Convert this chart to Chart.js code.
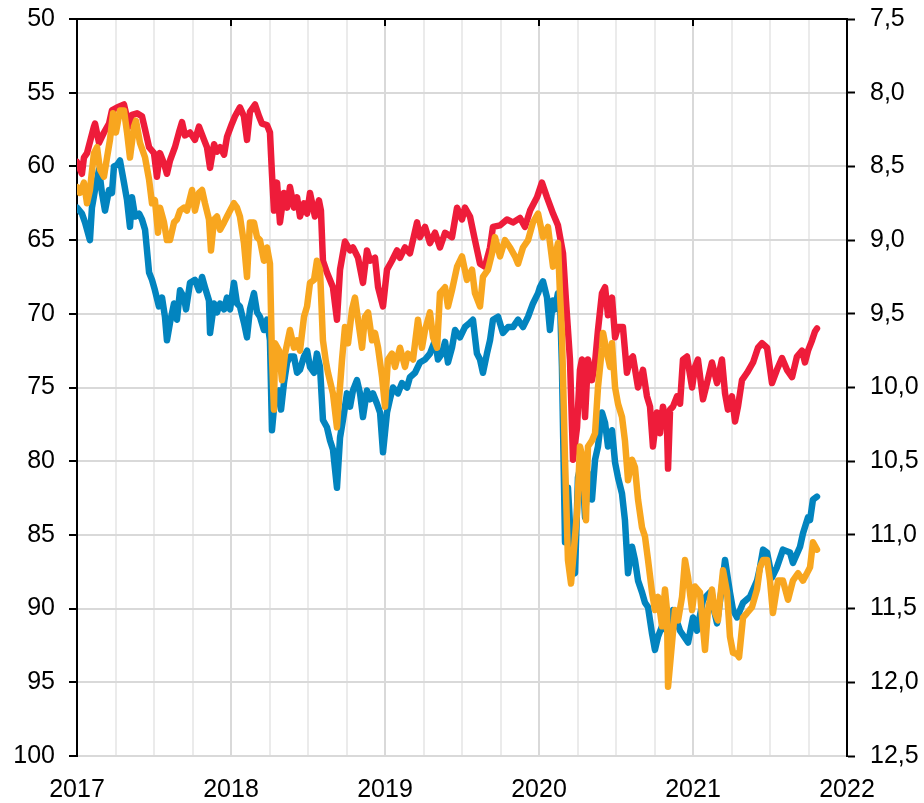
<!DOCTYPE html>
<html>
<head>
<meta charset="utf-8">
<script src="https://cdn.jsdelivr.net/npm/chart.js@4/dist/chart.umd.min.js"></script>
<style>
html,body{margin:0;padding:0;background:#fff;}
#wrap{width:924px;height:803px;}
</style>
</head>
<body>
<div id="wrap"><canvas id="c" width="924" height="803"></canvas></div>
<script>
// ---- Data (decimal years) ----
const yearTicks = [2017, 2018, 2019, 2020, 2021, 2022];

const blueYears = [2017.000,2017.032,2017.052,2017.084,2017.097,2017.117,2017.143,2017.162,2017.182,2017.208,2017.227,2017.240,2017.260,2017.279,2017.305,2017.325,2017.344,2017.357,2017.377,2017.403,2017.422,2017.442,2017.468,2017.487,2017.506,2017.532,2017.552,2017.571,2017.584,2017.604,2017.630,2017.649,2017.669,2017.695,2017.708,2017.734,2017.766,2017.792,2017.812,2017.831,2017.857,2017.864,2017.890,2017.909,2017.929,2017.955,2017.974,2017.994,
2018.019,2018.039,2018.058,2018.084,2018.104,2018.123,2018.149,2018.169,2018.188,2018.214,2018.234,2018.253,2018.266,2018.286,2018.312,2018.325,2018.344,2018.364,2018.383,2018.409,2018.429,2018.448,2018.474,2018.494,2018.513,2018.539,2018.558,2018.578,2018.597,2018.623,2018.643,2018.662,2018.688,2018.708,2018.727,2018.753,2018.773,2018.792,2018.818,2018.838,2018.857,2018.883,2018.903,2018.922,2018.948,2018.968,2018.987,
2019.013,2019.032,2019.052,2019.084,2019.110,2019.143,2019.162,2019.195,2019.227,2019.260,2019.292,2019.325,2019.344,2019.370,2019.390,2019.409,2019.435,2019.455,2019.487,2019.519,2019.552,2019.571,2019.597,2019.617,2019.636,2019.662,2019.682,2019.701,2019.734,2019.766,2019.799,2019.831,2019.864,2019.896,2019.929,2019.961,2019.994,
2020.006,2020.026,2020.052,2020.071,2020.091,2020.104,2020.123,2020.136,2020.149,2020.169,2020.188,2020.214,2020.234,2020.253,2020.279,2020.299,2020.318,2020.344,2020.364,2020.383,2020.409,2020.429,2020.448,2020.474,2020.494,2020.513,2020.539,2020.558,2020.578,2020.604,2020.623,2020.643,2020.669,2020.688,2020.708,2020.734,2020.753,2020.773,2020.799,2020.831,2020.870,2020.916,2020.968,
2021.000,2021.026,2021.065,2021.110,2021.156,2021.188,2021.208,2021.240,2021.260,2021.286,2021.325,2021.370,2021.416,2021.435,2021.455,2021.481,2021.513,2021.545,2021.584,2021.630,2021.649,2021.695,2021.714,2021.747,2021.760,2021.779,2021.805];
const blueValues = [62.8,63.2,63.8,65.0,62.8,61.6,60.2,61.8,63.0,61.6,61.8,60.0,59.9,59.6,61.1,62.3,64.1,62.1,63.4,63.2,63.6,64.3,67.2,67.7,68.4,69.5,68.9,70.2,71.8,70.6,69.3,70.4,68.4,68.9,69.7,67.9,67.7,68.4,67.5,68.2,69.1,71.3,69.3,69.9,69.3,69.7,68.9,69.7,
67.9,69.3,69.5,70.6,71.6,69.7,68.6,69.9,70.2,71.1,70.4,71.8,77.9,75.6,75.2,76.5,74.7,73.3,72.9,72.9,74.0,73.8,72.9,72.5,73.6,74.0,72.7,73.6,77.2,77.7,78.6,79.2,81.8,78.4,77.2,75.4,76.3,75.2,74.5,75.4,77.0,75.2,75.8,75.4,76.1,76.7,79.4,
76.7,75.8,75.0,75.4,74.7,75.0,74.3,74.0,73.3,73.1,72.7,71.8,73.1,72.7,71.9,73.3,72.3,71.1,71.6,70.9,70.6,70.4,72.7,73.1,74.0,72.7,71.8,70.4,70.2,71.3,70.9,70.9,70.4,70.9,70.2,69.3,68.6,
68.2,67.8,68.9,71.1,69.1,69.7,68.6,68.9,73.6,85.5,81.8,86.7,87.6,81.1,79.9,83.8,80.8,82.6,79.9,79.0,76.7,77.4,79.0,77.9,80.1,81.1,82.2,84.0,87.6,85.8,86.7,88.1,88.9,89.6,89.9,91.7,92.8,91.9,91.2,91.5,90.1,91.5,92.3,
90.6,91.5,89.4,88.9,91.0,88.5,86.7,88.9,90.1,90.6,89.6,89.2,88.1,87.2,86.0,86.2,87.9,87.2,86.0,86.2,86.9,85.8,84.9,83.8,84.0,82.6,82.4];

const redYears = [2017.000,2017.032,2017.045,2017.065,2017.110,2017.117,2017.143,2017.175,2017.208,2017.227,2017.260,2017.305,2017.338,2017.357,2017.390,2017.422,2017.442,2017.468,2017.500,2017.519,2017.539,2017.565,2017.584,2017.604,2017.636,2017.662,2017.682,2017.701,2017.734,2017.766,2017.792,2017.825,2017.844,2017.864,2017.890,2017.909,2017.929,2017.955,2017.974,
2018.006,2018.026,2018.058,2018.084,2018.104,2018.123,2018.156,2018.182,2018.201,2018.234,2018.253,2018.266,2018.279,2018.299,2018.318,2018.344,2018.364,2018.383,2018.409,2018.429,2018.448,2018.474,2018.494,2018.513,2018.545,2018.571,2018.584,2018.597,2018.623,2018.662,2018.688,2018.708,2018.740,2018.773,2018.792,2018.825,2018.857,2018.883,2018.903,2018.935,2018.955,2018.987,
2019.013,2019.045,2019.078,2019.097,2019.130,2019.162,2019.208,2019.227,2019.260,2019.292,2019.325,2019.357,2019.390,2019.435,2019.468,2019.500,2019.519,2019.552,2019.584,2019.617,2019.649,2019.682,2019.701,2019.747,2019.792,2019.831,2019.877,2019.909,2019.942,2019.987,
2020.019,2020.052,2020.091,2020.123,2020.156,2020.175,2020.201,2020.221,2020.247,2020.266,2020.279,2020.299,2020.318,2020.344,2020.364,2020.383,2020.409,2020.429,2020.448,2020.474,2020.494,2020.513,2020.545,2020.571,2020.591,2020.610,2020.643,2020.675,2020.701,2020.721,2020.740,2020.766,2020.786,2020.805,2020.831,2020.838,2020.851,2020.870,2020.896,2020.916,2020.935,2020.961,2020.994,
2021.013,2021.032,2021.065,2021.091,2021.123,2021.156,2021.188,2021.208,2021.227,2021.253,2021.273,2021.292,2021.318,2021.351,2021.390,2021.422,2021.448,2021.481,2021.513,2021.545,2021.578,2021.610,2021.643,2021.675,2021.708,2021.727,2021.747,2021.773,2021.792,2021.805];
const redValues = [8.47,8.55,8.44,8.41,8.23,8.21,8.34,8.27,8.21,8.12,8.10,8.08,8.23,8.15,8.14,8.16,8.25,8.37,8.41,8.57,8.41,8.48,8.55,8.46,8.37,8.27,8.20,8.29,8.27,8.32,8.23,8.32,8.37,8.51,8.35,8.40,8.37,8.42,8.30,
8.21,8.16,8.10,8.16,8.32,8.13,8.08,8.16,8.21,8.22,8.27,8.55,8.80,8.61,8.88,8.68,8.78,8.64,8.78,8.71,8.84,8.75,8.82,8.68,8.84,8.73,8.80,9.14,9.22,9.32,9.54,9.20,9.01,9.07,9.05,9.12,9.29,9.07,9.14,9.12,9.32,9.45,
9.20,9.14,9.07,9.12,9.05,9.09,8.88,8.98,8.91,9.02,8.95,9.05,8.95,8.98,8.78,8.86,8.78,8.84,9.00,9.16,9.18,9.05,8.91,8.90,8.86,8.88,8.85,8.91,8.80,8.71,
8.61,8.71,8.82,8.90,9.09,9.41,9.81,10.49,10.27,9.88,9.81,10.20,9.81,9.95,9.83,9.61,9.36,9.32,9.51,9.39,9.66,9.59,9.59,9.90,9.81,9.79,10.00,9.88,10.06,10.13,10.40,10.17,10.31,10.13,10.27,10.55,10.15,10.13,10.06,10.11,9.81,9.79,10.00,
9.86,9.81,10.08,9.97,9.83,9.97,9.81,10.04,10.15,10.06,10.23,10.13,9.95,9.90,9.83,9.73,9.70,9.73,9.97,9.88,9.80,9.88,9.93,9.79,9.75,9.83,9.75,9.68,9.62,9.60];

const orangeYears = [2017.000,2017.019,2017.045,2017.065,2017.084,2017.110,2017.130,2017.149,2017.175,2017.195,2017.214,2017.234,2017.253,2017.279,2017.305,2017.325,2017.344,2017.370,2017.383,2017.409,2017.442,2017.468,2017.487,2017.506,2017.526,2017.539,2017.565,2017.584,2017.604,2017.630,2017.649,2017.669,2017.695,2017.714,2017.747,2017.766,2017.792,2017.812,2017.831,2017.857,2017.870,2017.890,2017.909,2017.929,2017.955,2017.974,2017.994,
2018.019,2018.039,2018.058,2018.084,2018.104,2018.123,2018.149,2018.169,2018.188,2018.214,2018.234,2018.253,2018.266,2018.279,2018.286,2018.312,2018.331,2018.351,2018.383,2018.409,2018.429,2018.448,2018.474,2018.494,2018.513,2018.539,2018.558,2018.578,2018.597,2018.617,2018.630,2018.662,2018.688,2018.721,2018.740,2018.760,2018.786,2018.805,2018.825,2018.851,2018.870,2018.890,2018.916,2018.935,2018.955,2018.981,
2019.000,2019.019,2019.045,2019.065,2019.097,2019.130,2019.149,2019.182,2019.214,2019.240,2019.260,2019.292,2019.312,2019.338,2019.357,2019.390,2019.409,2019.435,2019.468,2019.500,2019.532,2019.565,2019.584,2019.617,2019.636,2019.669,2019.695,2019.714,2019.747,2019.779,2019.812,2019.844,2019.864,2019.896,2019.929,2019.961,2019.994,
2020.026,2020.058,2020.091,2020.123,2020.136,2020.149,2020.169,2020.188,2020.208,2020.221,2020.247,2020.266,2020.286,2020.305,2020.318,2020.344,2020.364,2020.383,2020.409,2020.416,2020.442,2020.461,2020.474,2020.494,2020.513,2020.539,2020.558,2020.578,2020.604,2020.623,2020.643,2020.669,2020.688,2020.708,2020.734,2020.753,2020.773,2020.799,2020.818,2020.831,2020.838,2020.864,2020.883,2020.903,2020.929,2020.948,2020.968,2020.994,
2021.013,2021.045,2021.078,2021.097,2021.123,2021.143,2021.162,2021.195,2021.221,2021.240,2021.260,2021.286,2021.299,2021.325,2021.351,2021.383,2021.416,2021.435,2021.455,2021.481,2021.500,2021.519,2021.552,2021.584,2021.617,2021.649,2021.682,2021.714,2021.740,2021.760,2021.779,2021.805];
const orangeValues = [61.4,61.8,61.1,62.5,61.6,59.1,58.7,60.2,60.7,59.4,58.2,56.4,57.7,56.2,56.2,57.7,59.4,57.3,56.9,58.4,59.4,60.9,62.5,62.3,64.5,62.8,63.8,65.0,65.0,63.8,63.6,63.0,62.8,63.0,61.6,63.0,61.8,61.6,62.5,63.6,65.7,63.6,63.4,64.3,63.8,63.4,63.0,
62.5,62.8,63.4,65.2,67.5,63.8,63.8,64.8,65.0,66.4,65.5,66.6,72.9,76.5,72.0,72.5,74.5,72.7,71.1,72.3,71.8,72.5,70.2,69.5,67.9,67.7,66.4,67.0,71.8,73.3,74.0,75.4,77.7,73.1,70.9,72.0,69.7,68.9,70.4,72.3,70.2,69.9,71.8,71.3,72.3,74.3,
76.3,73.1,72.7,73.6,72.3,73.6,72.7,73.1,70.4,72.3,71.1,69.9,71.6,72.3,68.6,68.2,69.5,68.4,66.8,66.1,67.7,67.0,68.6,69.5,67.5,67.0,65.9,64.8,66.1,65.0,65.5,66.1,66.6,65.5,65.0,63.8,63.2,
64.8,64.1,66.8,65.2,68.6,71.3,79.9,86.7,88.3,86.7,83.5,79.0,79.9,84.0,79.0,78.6,78.1,75.0,72.3,71.3,72.7,73.6,72.0,75.0,76.1,77.0,78.6,81.3,79.9,80.4,82.6,84.5,85.1,86.7,88.9,90.1,89.2,91.2,88.7,90.1,95.3,92.3,90.1,90.8,89.2,86.7,87.9,90.1,
88.5,88.9,92.8,90.1,88.7,90.3,90.8,87.4,88.9,91.9,93.0,93.1,93.3,90.6,90.3,89.9,88.7,87.2,86.7,86.7,88.1,90.3,88.1,88.1,89.4,88.1,87.6,88.1,87.6,87.2,85.5,86.0];

// ---- Chart ----
const FONT = "'Liberation Sans', Arial, sans-serif";
Chart.defaults.font.family = FONT;
Chart.defaults.color = '#000';

function pts(xs, ys) {
  const n = Math.min(xs.length, ys.length);
  const out = [];
  for (let i = 0; i < n; i++) out.push({x: xs[i], y: ys[i]});
  return out;
}
const isYear = v => Math.abs(v - Math.round(v)) < 1e-6;

const framePlugin = {
  id: 'frame',
  afterDraw(chart) {
    const {ctx, chartArea: a, scales} = chart;
    const x = scales.x;
    ctx.save();
    ctx.strokeStyle = '#000';
    ctx.lineWidth = 2;
    ctx.beginPath();
    ctx.moveTo(a.left - 1, a.top);
    ctx.lineTo(a.right + 1, a.top);
    yearTicks.forEach(yr => {
      const px = Math.round(x.getPixelForValue(yr));
      if (px > a.left + 2 && px < a.right - 2) {
        ctx.moveTo(px, a.top);
        ctx.lineTo(px, a.top + 7);
      }
    });
    ctx.stroke();
    ctx.restore();
  }
};

function fixY(s) { s.width = 77; s.paddingTop = 0; s.paddingBottom = 0; }

const LW = 6.5;
new Chart(document.getElementById('c'), {
  type: 'line',
  data: {
    datasets: [
      {label: 'orange', data: pts(orangeYears, orangeValues), yAxisID: 'y', borderColor: '#f8a61f', borderWidth: LW, order: 0},
      {label: 'red', data: pts(redYears, redValues), yAxisID: 'y2', borderColor: '#ee1c3a', borderWidth: LW, order: 1},
      {label: 'blue', data: pts(blueYears, blueValues), yAxisID: 'y', borderColor: '#0284bf', borderWidth: LW, order: 2}
    ]
  },
  options: {
    responsive: false,
    animation: false,
    devicePixelRatio: 1,
    layout: {padding: {top: 19, left: 0, right: 0, bottom: 0}},
    elements: {
      line: {borderWidth: LW, tension: 0, borderJoinStyle: 'round', borderCapStyle: 'round', fill: false},
      point: {radius: 0, hoverRadius: 0}
    },
    plugins: {legend: {display: false}, tooltip: {enabled: false}},
    scales: {
      x: {
        type: 'linear', position: 'bottom', min: 2017, max: 2022,
        afterFit(s) { s.height = 47; s.paddingLeft = 0; s.paddingRight = 0; },
        ticks: {
          stepSize: 0.25, autoSkip: false, maxRotation: 0, padding: 19,
          font: {size: 25, family: FONT}, color: '#000',
          callback: v => isYear(v) ? String(Math.round(v)) : ''
        },
        grid: {
          drawTicks: false, lineWidth: 2,
          color: c => (c.tick && isYear(c.tick.value)) ? '#d9d9d9' : '#ebebeb'
        },
        border: {display: false}
      },
      y: {
        position: 'left', reverse: true, min: 50, max: 100,
        afterFit: fixY,
        ticks: {stepSize: 5, padding: 14, font: {size: 25, family: FONT}, color: '#000'},
        grid: {color: '#d9d9d9', lineWidth: 2, tickLength: 8, tickColor: '#000', tickWidth: 2},
        border: {display: true, color: '#000', width: 2}
      },
      y2: {
        position: 'right', reverse: true, min: 7.5, max: 12.5,
        afterFit: fixY,
        ticks: {
          stepSize: 0.5, padding: 15, font: {size: 25, family: FONT}, color: '#000',
          callback: v => v.toFixed(1).replace('.', ',')
        },
        grid: {drawOnChartArea: false, tickLength: 8, tickColor: '#000', tickWidth: 2},
        border: {display: true, color: '#000', width: 2}
      }
    }
  },
  plugins: [framePlugin]
});
</script>
</body>
</html>
